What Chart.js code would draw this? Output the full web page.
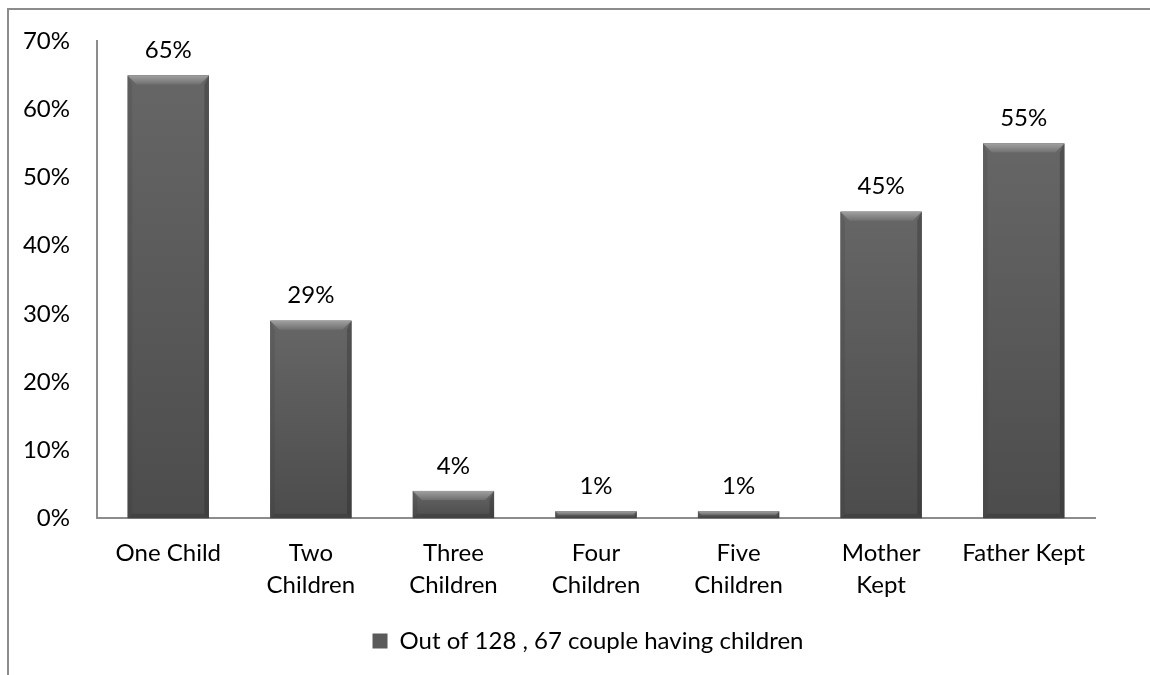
<!DOCTYPE html>
<html>
  <head>
    <meta charset="UTF-8">
    <title>Children of divorced couples</title>
    <script src="https://cdn.jsdelivr.net/npm/chart.js"></script>
    <style>
      html, body { margin: 0; padding: 0; background: #fff; }
      #wrap { position: relative; width: 1150px; height: 675px; overflow: hidden; }
      #frame {
        position: absolute; left: 7px; top: 8px; width: 1200px; height: 700px;
        border-top: 2px solid #8c8c8c; border-left: 2px solid #8c8c8c;
      }
      canvas { position: absolute; left: 0; top: 0; }
    </style>
  </head>
  <body>
    <div id="wrap">
      <div id="frame"></div>
      <canvas id="chart" width="1150" height="675"></canvas>
    </div>
    <script>
      // data
      const categories = [
        'One Child',
        ['Two', 'Children'],
        ['Three', 'Children'],
        ['Four', 'Children'],
        ['Five', 'Children'],
        ['Mother', 'Kept'],
        'Father Kept'
      ];
      const shares = [65, 29, 4, 1, 1, 45, 55];
      const seriesName = 'Out of 128 , 67 couple having children';
      const yMax = 70;
      const yStep = 10;

      const FONT = 'Lato, "Noto Sans", sans-serif';
      Chart.defaults.font.family = FONT;
      Chart.defaults.color = '#000';

      // value labels above each bar
      const valueLabels = {
        id: 'valueLabels',
        afterDatasetsDraw(chart) {
          const ctx = chart.ctx;
          const meta = chart.getDatasetMeta(0);
          ctx.save();
          ctx.font = '24px ' + FONT;
          ctx.fillStyle = '#000';
          ctx.textAlign = 'center';
          ctx.textBaseline = 'bottom';
          meta.data.forEach((bar, i) => {
            ctx.fillText(shares[i] + '%', bar.x, bar.y - 13);
          });
          ctx.restore();
        }
      };

      // center the legend under the plot area, not the whole canvas
      const legendUnderPlot = {
        id: 'legendUnderPlot',
        afterLayout(chart) {
          const lg = chart.legend;
          const d = (chart.chartArea.left + chart.chartArea.right) / 2 - (lg.left + lg.right) / 2 - 8;
          lg.left += d;
          lg.right += d;
        }
      };

      // rough bevel like the office chart
      const bevel = {
        id: 'bevel',
        afterDatasetDraw(chart) {
          const ctx = chart.ctx;
          chart.getDatasetMeta(0).data.forEach(bar => {
            const l = bar.x - bar.width / 2, r = bar.x + bar.width / 2;
            const t = bar.y, b = bar.base;
            const h = b - t;
            const e = Math.min(9, h / 2);
            ctx.save();
            // face
            const g = ctx.createLinearGradient(0, t, 0, b);
            g.addColorStop(0, '#666666');
            g.addColorStop(1, '#4c4c4c');
            ctx.fillStyle = g;
            ctx.fillRect(l, t, r - l, h);
            // top bevel
            const tg = ctx.createLinearGradient(0, t, 0, t + e);
            tg.addColorStop(0, '#a0a0a0');
            tg.addColorStop(1, '#707070');
            ctx.fillStyle = tg;
            ctx.beginPath();
            ctx.moveTo(l, t); ctx.lineTo(r, t);
            ctx.lineTo(r - e, t + e); ctx.lineTo(l + e, t + e);
            ctx.closePath(); ctx.fill();
            // sides
            ctx.fillStyle = 'rgba(40,40,40,0.12)';
            ctx.beginPath();
            ctx.moveTo(l, t); ctx.lineTo(l + e / 2, t + e);
            ctx.lineTo(l + e / 2, b - e / 2); ctx.lineTo(l, b); ctx.closePath(); ctx.fill();
            ctx.fillStyle = 'rgba(30,30,30,0.28)';
            ctx.beginPath();
            ctx.moveTo(r, t); ctx.lineTo(r - e / 2, t + e);
            ctx.lineTo(r - e / 2, b - e / 2); ctx.lineTo(r, b); ctx.closePath(); ctx.fill();
            // bottom
            ctx.fillStyle = 'rgba(20,20,20,0.18)';
            ctx.beginPath();
            ctx.moveTo(l, b); ctx.lineTo(l + e / 2, b - e / 2);
            ctx.lineTo(r - e / 2, b - e / 2); ctx.lineTo(r, b); ctx.closePath(); ctx.fill();
            ctx.restore();
          });
        }
      };

      new Chart(document.getElementById('chart'), {
        type: 'bar',
        data: {
          labels: categories,
          datasets: [{
            label: seriesName,
            data: shares,
            backgroundColor: '#5a5a5a',
            borderWidth: 0,
            barPercentage: 0.57,
            categoryPercentage: 1
          }]
        },
        options: {
          responsive: false,
          animation: false,
          layout: { padding: { top: 30, right: 55, left: 0, bottom: 12 } },
          scales: {
            x: {
              grid: { display: false, drawTicks: false },
              border: { display: true, color: '#8c8c8c', width: 2 },
              ticks: { font: { size: 24, lineHeight: 1.33 }, color: '#000', padding: 19, maxRotation: 0, autoSkip: false }
            },
            y: {
              min: 0,
              max: yMax,
              afterFit: s => { s.width = 97; },
              grid: { display: false, drawTicks: false },
              border: { display: true, color: '#8c8c8c', width: 2 },
              ticks: {
                stepSize: yStep,
                padding: 27,
                font: { size: 24 },
                color: '#000',
                callback: v => v + '%'
              }
            }
          },
          plugins: {
            tooltip: { enabled: false },
            legend: {
              position: 'bottom',
              labels: {
                font: { size: 24 },
                color: '#000',
                boxWidth: 15,
                boxHeight: 15,
                padding: 9
              }
            }
          }
        },
        plugins: [bevel, valueLabels, legendUnderPlot]
      });
    </script>
  </body>
</html>
